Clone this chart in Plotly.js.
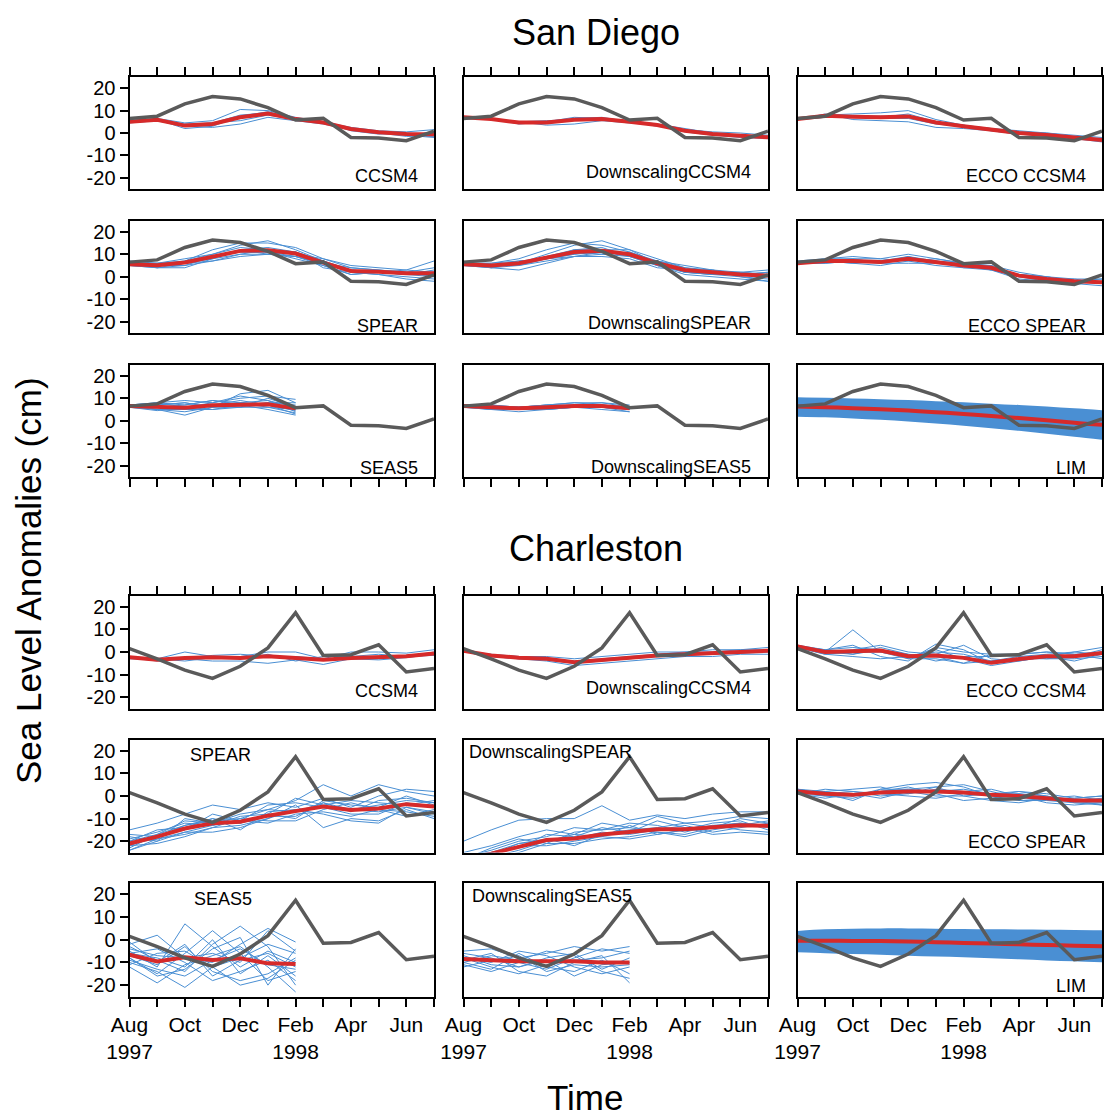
<!DOCTYPE html>
<html><head><meta charset="utf-8">
<script src="https://cdn.plot.ly/plotly-3.0.1.min.js"></script>
<style>body{margin:0;background:#fff}#chart{width:1104px;height:1120px}</style>
</head><body><div id="chart"></div>
<script>
// ---------- DATA ----------
const monthIdx = [0,1,2,3,4,5,6,7,8,9,10,11];
const monthTickText = ["Aug<br>1997","","Oct","","Dec","","Feb<br>1998","","Apr","","Jun",""];
const yTickVals = [20,10,0,-10,-20];
const yTickText = ["20","10","0","-10","-20"];

const obsSanDiego = [6.5, 7.5, 13, 16.3, 15.2, 11.3, 5.8, 6.6, -2, -2.2, -3.4, 0.8];
const obsCharleston = [1.5, -3, -8, -11.7, -6.3, 1.8, 17.4, -1.5, -1.2, 3.2, -8.8, -7.3];

// San Diego
const sdCCSM4Mean = [5, 5.9, 3.3, 4, 7, 8.7, 6.2, 4.7, 1.8, 0.3, -0.4, -0.6];
const sdCCSM4Members = [
  [5.5, 6.5, 4.5, 5.5, 10.5, 10, 7, 5, 2.5, 1, 0.5, 1.5],
  [5, 6, 2, 3, 7.5, 9.5, 6.5, 4.5, 2, 0.5, -0.5, 0],
  [4.5, 5.5, 3, 2.5, 4, 7, 5.5, 4, 1.5, 0, -1.5, -1.5],
  [5, 6, 4, 4.5, 8, 9, 6, 5, 1, -0.5, 0, -1],
  [5, 5.5, 3, 4.5, 5.5, 8, 6, 5, 2, 0.5, -1, -2]];
const sdDsCCSM4Mean = [7, 6.2, 4.7, 4.7, 5.9, 6.2, 5, 3.6, 1, -0.4, -1.2, -1.9];
const sdDsCCSM4Members = [
  [7, 6.5, 4, 5, 7, 6.5, 5, 3, 1.5, 0.5, 0, -1],
  [7, 6, 5, 5.5, 6, 6, 5.5, 4, 2, 0, -1, -2.5],
  [7, 6, 5, 3.5, 4, 5.5, 4.5, 3.5, 0.5, -1, -2, -2.5],
  [7, 6, 4.5, 4.5, 6.5, 7, 5, 3.5, 1, -0.5, -1.5, -1.5]];
const sdEcCCSM4Mean = [6.2, 7.7, 7.3, 7, 7.4, 4.7, 3, 1.3, 0, -0.9, -1.9, -3.1];
const sdEcCCSM4Members = [
  [6, 8, 8.5, 9, 10, 6, 3.5, 2, 0.5, 0, -1, -2],
  [6, 8.5, 6, 5.5, 5, 2.5, 2, 1, -0.5, -1.5, -2.5, -4],
  [6.5, 7.5, 7.5, 7, 8.5, 5, 3, 1.5, 0, -1, -2, -3.5],
  [6, 7, 7, 6.5, 6.5, 4, 3, 2, 1, 0, -1.5, -2.5],
  [6, 8, 7.5, 7.5, 7, 5, 3.5, 1, -0.5, -1, -2, -3]];
const sdSPEARMean = [5.6, 5.1, 6.3, 8.8, 11.5, 11.8, 10.3, 6.3, 2.6, 2.2, 1.5, 1.5];
const sdSPEARMembers = [
  [6, 4, 4, 8, 12, 13, 11, 7, 3, 2, 1, 3],
  [5, 5, 7, 12, 15, 15, 13, 8, 4, 3, 2, 4],
  [6, 6, 8, 10, 14, 16, 12, 7, 2, 1, 0, -1],
  [5, 4, 5, 7, 9, 10, 9, 5, 1, 2, 3, 7],
  [7, 6, 6, 9, 11, 11, 9, 6, 4, 3, 2, 0],
  [5, 5, 6, 8, 10, 10, 11, 4, 2, 1, -1, -2],
  [6, 6, 7, 10, 13, 12, 10, 8, 5, 4, 3, 2],
  [5, 5, 5, 9, 11, 11, 8, 5, 1, 2, 1, 1],
  [6, 5, 6, 7, 10, 12, 11, 7, 3, 2, 2, 2],
  [5, 4, 6, 9, 12, 10, 9, 6, 3, 2, 1, 0]];
const sdDsSPEARMean = [5.5, 5, 6, 8.5, 11, 11.5, 10, 6, 3, 2, 1, 0.5];
const sdDsSPEARMembers = [
  [6, 5, 6, 10, 14, 16, 12, 8, 4, 2, 1, 0],
  [5, 4, 3, 6, 9, 10, 9, 5, 2, 1, 0, -2],
  [6, 6, 8, 12, 15, 14, 11, 7, 3, 3, 2, 3],
  [5, 5, 7, 8, 10, 12, 12, 6, 2, 1, 1, 2],
  [6, 5, 5, 7, 9, 9, 8, 4, 3, 2, 2, 1],
  [5, 4, 6, 9, 12, 13, 9, 7, 5, 3, 0, -1],
  [6, 6, 7, 8, 10, 11, 10, 5, 1, 0, -1, -2],
  [5, 5, 6, 9, 11, 10, 11, 6, 2, 2, 2, 1],
  [6, 4, 5, 8, 12, 12, 10, 7, 4, 3, 1, 2],
  [5, 5, 6, 8, 9, 11, 9, 5, 2, 1, 1, 0]];
const sdEcSPEARMean = [6, 7, 7, 6.5, 8, 6.5, 5, 4, 0.5, -1, -2, -2.5];
const sdEcSPEARMembers = [
  [6, 8, 9, 8, 10, 8, 6, 4, 1, 0, -1, -1],
  [6, 7, 6, 5, 7, 5, 4, 3, 0, -2, -3, -4],
  [6, 6, 7, 7, 9, 7, 6, 5, 2, 0, -2, -3],
  [7, 8, 8, 6, 6, 6, 5, 3, -1, -2, -3, -2],
  [6, 7, 6, 7, 8, 7, 4, 4, 1, -1, -1, -3],
  [6, 6, 7, 6, 9, 6, 5, 5, 0, -1, -2, -1],
  [6, 7, 8, 8, 7, 8, 6, 3, 1, 0, -2, -3]];
const sdSEAS5Mean = [6.6, 6.3, 5.8, 6.9, 7.3, 7.3, 5.5];
const sdSEAS5Members = [
  [6, 8, 9, 8, 10, 11, 9.5],
  [7, 5, 2.5, 6, 12, 13.5, 8],
  [6, 5, 4, 6, 8, 9, 4],
  [7, 8, 7, 9, 7, 5, 2.5],
  [6, 6, 5, 7, 9, 7, 3],
  [6.5, 7, 8, 6, 6, 6, 5],
  [6, 4.5, 6, 8, 11, 9, 6],
  [7, 8, 6, 5, 6, 8, 7],
  [6, 6, 7, 9, 8, 6, 3.5],
  [6.5, 5, 5, 7, 6, 10, 6],
  [6, 7, 8, 6, 8, 7, 4.5],
  [7, 6, 5, 5, 7, 8, 8]];
const sdDsSEAS5Mean = [6.5, 6, 5.5, 6, 6.5, 6.5, 5.5];
const sdDsSEAS5Members = [
  [6.5, 6, 6, 7, 8, 8, 7],
  [6.5, 5, 5, 5, 6, 6, 4],
  [7, 7, 6, 7, 7, 7, 6],
  [6, 5, 4, 5, 6, 5, 4],
  [6.5, 6, 6, 6, 7, 8, 6],
  [7, 6, 5, 6, 6, 6, 5],
  [6.5, 7, 6, 7, 8, 7, 6],
  [6, 5, 5, 5, 6, 6, 5]];
const sdLIMMean  = [6.3, 6.0, 5.6, 5.1, 4.5, 3.8, 3.0, 2.1, 1.2, 0.2, -0.9, -1.8];
const sdLIMUpper = [10.4, 10.2, 9.9, 9.6, 9.2, 8.7, 8.2, 7.6, 7.0, 6.3, 5.5, 4.7];
const sdLIMLower = [1.8, 1.5, 1.0, 0.4, -0.3, -1.2, -2.2, -3.3, -4.5, -5.8, -7.1, -8.4];

// Charleston
const chCCSM4Mean = [-2.3, -3.4, -2.6, -2.3, -2.6, -1.9, -2.6, -3.4, -2.6, -2.2, -1.9, -0.7];
const chCCSM4Members = [
  [-2.5, -3, 0, -2, -2, 0, 0, -3, 0, 0, -0.5, 1],
  [-3, -3.5, -3, -4, -4, -5, -3.5, -5.5, -3, -3.5, -2.5, -1],
  [-2, -3.5, -3, -2, -3, -1, -4, -2, -2, -1, -2, 0],
  [-2.5, -4, -2.5, -1.5, -1, -2, -3, -3, -3, -3, -2, -1.5],
  [-2, -3, -4, -2.5, -2.5, -2, -2, -3, -3, -2.5, -1.5, -0.5]];
const chDsCCSM4Mean = [0.5, -1.5, -2.5, -3, -4.5, -3.5, -2.5, -1.5, -1, -0.5, 0, 0.5];
const chDsCCSM4Members = [
  [0.5, -1, -2, -2, -3, -2, -1, 0, 0, 1, 1, 2],
  [0.5, -2, -3, -4, -6, -5, -4, -3, -2, -2, -1, -1],
  [0.5, -1.5, -2, -3, -4, -3, -2, -1, 0, 0, 1, 1],
  [0.5, -2, -3, -3.5, -5, -4, -3, -2, -1.5, -1, -0.5, 0]];
const chEcCCSM4Mean = [2.5, 0, 0.3, 0.7, -1.9, -1.5, -2.6, -4.8, -3.1, -1.9, -1.9, -0.4];
const chEcCCSM4Members = [
  [3, 0, 9.8, 0, -3, 2, 0, -1, -1, 0, -1, 0],
  [2, 1, 3, -2, -4, 3.5, 1, -5, -3, -2, -2, 0],
  [3, 0, -1, 2, -1, -2, -5, -1, -2, -3, -3, -2],
  [2, -1, -2, -3, -2, 1, -3, -6, -4, -2, 0, 2],
  [1.5, 0, 1, 3, 0, -1, 3, -3, -4, -2, -4, -1],
  [2.5, 1, 2, 1, -1, -4, -2, -2, -1, 0, -1, -3],
  [2, -1, 0, 0, -2, 0, -1, -4, -3, -3, -2, 1],
  [3, 1, -1, 1, -3, -3, -5, -4, -2, -1, 0, -1]];
const chSPEARMean = [-21, -18, -14.4, -12.1, -11.4, -8.7, -6.7, -4.7, -6.2, -5.5, -3.6, -4.7];
const chSPEARMembers = [
  [-15, -12, -8, -4, -6, -3, -5, -1, -5, 0, 3, 2],
  [-18, -20, -10, -12, -8, -6, -2, 5, 0, 5, 2, 0],
  [-22, -18, -15, -8, -11, -4, -3, -5, -8, -8, -3, -5],
  [-24, -20, -16, -16, -14, -10, -4, -14, -10, -11, -6, -10],
  [-20, -17, -11, -12, -12, -9, -9, -3, -7, -2, -1, -3],
  [-21, -19, -17, -14, -10, -11, -11, -6, -3, -6, -9, -6],
  [-23, -17, -13, -10, -15, -7, -6, -8, -11, -12, -5, -8],
  [-19, -16, -12, -13, -9, -8, -10, -2, -4, -5, 0, -4],
  [-22, -21, -18, -14, -13, -10, -6, -5, -6, -7, -5, -7],
  [-20, -15, -14, -10, -12, -8, -1, -4, -2, -3, -4, -2],
  [-24, -19, -16, -13, -11, -12, -8, -7, -9, -6, -7, -9],
  [-17, -18, -13, -11, -10, -6, -7, -3, -6, -4, -2, -3]];
const chDsSPEARMean = [-28, -25.5, -22.5, -19.5, -18.8, -17, -15.9, -14.7, -14.7, -14, -12.9, -13.2];
const chDsSPEARMembers = [
  [-20, -15, -10.7, -10, -10, -4.3, -10.7, -8.4, -10, -8, -7, -7],
  [-25, -22, -18, -15, -17, -12, -14, -9, -12, -11, -9, -10],
  [-27, -24, -20, -18, -14, -15, -12, -13, -16, -13, -12, -14],
  [-30, -27, -24, -20, -19, -16, -17, -15, -13, -16, -14, -12],
  [-28, -26, -22, -22, -20, -18, -13, -17, -15, -12, -11, -15],
  [-29, -28, -25, -21, -21, -19, -18, -16, -18, -15, -13, -11],
  [-26, -25, -23, -17, -18, -14, -16, -11, -14, -17, -16, -17],
  [-30, -26, -21, -19, -22, -17, -15, -14, -12, -14, -10, -12],
  [-27, -25, -21, -20, -17, -18, -19, -17, -15, -13, -15, -16],
  [-28, -23, -19, -21, -16, -15, -14, -16, -17, -14, -12, -13]];
const chEcSPEARMean = [2, 1, 0.5, 1.5, 2, 2, 1.5, 0.5, 0, -1, -2, -2];
const chEcSPEARMembers = [
  [3, 1, -2, 3, 5, 6, 4, 0, 2, 1, -1, 0],
  [1, 3, 2, 0, 1, 4, 5, 2, -1, -2, -3, -4],
  [2, 0, -1, 2, 4, 1, -2, -1, 1, 0, -2, -1],
  [3, 2, 3, 4, 1, 3, 2, 3, 0, -3, -4, -3],
  [1, -1, 1, -1, 2, 0, 0, -2, -3, -1, 0, -2],
  [2, 2, 0, 3, 3, 2, 3, 1, 2, 0, -3, -3],
  [3, 1, 2, 1, 0, -1, 1, 0, -2, -2, -1, 0],
  [1, 0, 0, 2, 3, 4, 0, 1, 1, -1, -2, -4]];
const chSEAS5Mean = [-6.6, -9.6, -7.7, -8.9, -8.2, -10.4, -10.7];
const chSEAS5Members = [
  [-2, 2, -8, -10, -2, 5, -1],
  [-5, -12, 7, -3, -12, -5, -10],
  [-8, -15, -6, 4, -6, -18, -14],
  [-3, -9, -14, -2, 6, -3, -20],
  [-10, -14, -21, -12, -8, -2, -6],
  [-6, -4, -10, -18, -14, -9, -18],
  [-12, -19, -11, -7, -3, -12, -23],
  [-7, -11, -3, -14, -18, -15, -8],
  [-4, -7, -8, -6, -10, 4, -5],
  [-9, -13, -16, -9, -4, -11, -13],
  [-6, -8, -12, 0, -15, -7, -16],
  [-11, -6, -5, -12, -20, -17, -9],
  [-1, -10, -2, -16, -9, -6, -12],
  [-8, -16, -13, -4, 1, -20, -4]];
const chDsSEAS5Mean = [-8.5, -9, -9.5, -9.5, -9.5, -10, -10];
const chDsSEAS5Members = [
  [-5, -4, -8, -6, -3, -5, -3],
  [-10, -13, -6, -12, -14, -9, -15],
  [-7, -11, -12, -8, -6, -13, -8],
  [-9, -6, -14, -16, -10, -7, -19],
  [-8, -10, -5, -7, -12, -15, -12],
  [-11, -14, -10, -13, -8, -4, -6],
  [-6, -8, -12, -9, -16, -11, -10],
  [-10, -7, -9, -5, -7, -14, -17],
  [-8, -12, -15, -11, -9, -8, -5],
  [-12, -9, -7, -14, -11, -12, -11]];
const chLIMMean  = [-0.4, -0.4, -0.5, -0.6, -0.8, -1.1, -1.4, -1.7, -2.0, -2.3, -2.6, -2.9];
const chLIMUpper = [3.9, 4.6, 4.9, 5, 5, 4.9, 4.7, 4.6, 4.5, 4.4, 4.3, 4.2];
const chLIMLower = [-5.5, -5.9, -6.3, -6.6, -7, -7.4, -7.7, -8.1, -8.6, -9.1, -9.5, -9.9];

const panelNames = ["CCSM4","DownscalingCCSM4","ECCO CCSM4","SPEAR","DownscalingSPEAR","ECCO SPEAR","SEAS5","DownscalingSEAS5","LIM"];

// ---------- BUILD ----------
const panels = [
  {obs: obsSanDiego, mean: sdCCSM4Mean, members: sdCCSM4Members},
  {obs: obsSanDiego, mean: sdDsCCSM4Mean, members: sdDsCCSM4Members},
  {obs: obsSanDiego, mean: sdEcCCSM4Mean, members: sdEcCCSM4Members},
  {obs: obsSanDiego, mean: sdSPEARMean, members: sdSPEARMembers},
  {obs: obsSanDiego, mean: sdDsSPEARMean, members: sdDsSPEARMembers},
  {obs: obsSanDiego, mean: sdEcSPEARMean, members: sdEcSPEARMembers},
  {obs: obsSanDiego, mean: sdSEAS5Mean, members: sdSEAS5Members},
  {obs: obsSanDiego, mean: sdDsSEAS5Mean, members: sdDsSEAS5Members},
  {obs: obsSanDiego, mean: sdLIMMean, upper: sdLIMUpper, lower: sdLIMLower},
  {obs: obsCharleston, mean: chCCSM4Mean, members: chCCSM4Members},
  {obs: obsCharleston, mean: chDsCCSM4Mean, members: chDsCCSM4Members},
  {obs: obsCharleston, mean: chEcCCSM4Mean, members: chEcCCSM4Members},
  {obs: obsCharleston, mean: chSPEARMean, members: chSPEARMembers},
  {obs: obsCharleston, mean: chDsSPEARMean, members: chDsSPEARMembers},
  {obs: obsCharleston, mean: chEcSPEARMean, members: chEcSPEARMembers},
  {obs: obsCharleston, mean: chSEAS5Mean, members: chSEAS5Members},
  {obs: obsCharleston, mean: chDsSEAS5Mean, members: chDsSEAS5Members},
  {obs: obsCharleston, mean: chLIMMean, upper: chLIMUpper, lower: chLIMLower}
];

// layout geometry (pixels)
const W = 1104, H = 1120;
const colX = [[129.5, 434], [463.5, 768], [797.5, 1102]];
const rowY = [[77, 189], [220.5, 333], [364.5, 477], [595.5, 708.5], [739.5, 852.5], [883, 996.5]];
// label placement per panel: [xfrac, yfrac, xanchor]
const labelPos = [
  [0.954, 0.116, 'right'], [0.951, 0.152, 'right'], [0.954, 0.116, 'right'],
  [0.954, 0.062, 'right'], [0.951, 0.089, 'right'], [0.954, 0.062, 'right'],
  [0.954, 0.080, 'right'], [0.951, 0.089, 'right'], [0.954, 0.080, 'right'],
  [0.954, 0.154, 'right'], [0.951, 0.180, 'right'], [0.954, 0.154, 'right'],
  [0.300, 0.863, 'center'], [0.011, 0.889, 'left'], [0.954, 0.093, 'right'],
  [0.307, 0.859, 'center'], [0.021, 0.885, 'left'], [0.954, 0.093, 'right']
];

const BLUE = '#4a8fd3', RED = '#d62a2a', GRAY = '#5a5a5a';
const FONT = 'Liberation Sans, Arial, Helvetica, sans-serif';
const traces = [];
const layout = {
  width: W, height: H, margin: {l: 0, r: 0, t: 0, b: 0},
  paper_bgcolor: '#fff', plot_bgcolor: '#fff', showlegend: false,
  font: {family: FONT, color: '#000'}, annotations: []
};

panels.forEach((p, i) => {
  const n = i + 1;
  const xa = 'x' + (n === 1 ? '' : n), ya = 'y' + (n === 1 ? '' : n);
  const row = Math.floor(i / 3), col = i % 3;
  if (p.upper) {
    traces.push({x: monthIdx, y: p.lower, xaxis: xa, yaxis: ya, type: 'scatter', mode: 'lines',
      line: {width: 0, color: BLUE, shape: 'spline'}, hoverinfo: 'skip'});
    traces.push({x: monthIdx, y: p.upper, xaxis: xa, yaxis: ya, type: 'scatter', mode: 'lines',
      line: {width: 0, color: BLUE, shape: 'spline'}, fill: 'tonexty', fillcolor: BLUE, hoverinfo: 'skip'});
  } else {
    p.members.forEach(m => traces.push({x: monthIdx.slice(0, m.length), y: m, xaxis: xa, yaxis: ya,
      type: 'scatter', mode: 'lines', line: {width: 1, color: BLUE}}));
  }
  traces.push({x: monthIdx.slice(0, p.mean.length), y: p.mean, xaxis: xa, yaxis: ya, type: 'scatter',
    mode: 'lines', line: {width: 4, color: RED, shape: p.upper ? 'spline' : 'linear'}});
  traces.push({x: monthIdx, y: p.obs, xaxis: xa, yaxis: ya, type: 'scatter', mode: 'lines',
    line: {width: 3.5, color: GRAY}});

  const xKey = 'xaxis' + (n === 1 ? '' : n), yKey = 'yaxis' + (n === 1 ? '' : n);
  const topTicks = (row === 0 || row === 3), botTicks = (row === 2 || row === 5);
  layout[xKey] = {
    domain: [colX[col][0] / W, colX[col][1] / W], anchor: ya, range: [0, 11],
    showgrid: false, zeroline: false, showline: true, mirror: true, linecolor: '#000', linewidth: 2,
    side: topTicks ? 'top' : 'bottom', ticks: (topTicks || botTicks) ? 'outside' : '',
    ticklen: 8, tickwidth: 2, tickcolor: '#000',
    tickmode: 'array', tickvals: monthIdx, ticktext: monthTickText,
    showticklabels: row === 5, tickfont: {size: 21, family: FONT, color: '#000'}, tickangle: 0
  };
  layout[yKey] = {
    domain: [1 - rowY[row][1] / H, 1 - rowY[row][0] / H], anchor: xa, range: [-25, 25],
    showgrid: false, zeroline: false, showline: true, mirror: true, linecolor: '#000', linewidth: 2,
    side: col === 2 ? 'right' : 'left', ticks: col === 1 ? '' : 'outside',
    ticklen: 8, tickwidth: 2, tickcolor: '#000',
    tickmode: 'array', tickvals: yTickVals, ticktext: yTickText,
    showticklabels: col === 0, tickfont: {size: 20, family: FONT, color: '#000'}
  };
  const lp = labelPos[i];
  layout.annotations.push({text: panelNames[i % 9], xref: xa + ' domain', yref: ya + ' domain',
    x: lp[0], y: lp[1], xanchor: lp[2], yanchor: 'middle', showarrow: false,
    font: {size: 18, family: FONT, color: '#000'}});
});

layout.annotations.push(
  {text: 'San Diego', xref: 'paper', yref: 'paper', x: 596 / W, y: 1 - 32 / H, xanchor: 'center', yanchor: 'middle',
   showarrow: false, font: {size: 36, family: FONT, color: '#000'}},
  {text: 'Charleston', xref: 'paper', yref: 'paper', x: 596 / W, y: 1 - 548 / H, xanchor: 'center', yanchor: 'middle',
   showarrow: false, font: {size: 36, family: FONT, color: '#000'}},
  {text: 'Sea Level Anomalies (cm)', xref: 'paper', yref: 'paper', x: 28 / W, y: 1 - 581 / H, xanchor: 'center', yanchor: 'middle',
   textangle: -90, showarrow: false, font: {size: 35, family: FONT, color: '#000'}},
  {text: 'Time', xref: 'paper', yref: 'paper', x: 585 / W, y: 1 - 1097 / H, xanchor: 'center', yanchor: 'middle',
   showarrow: false, font: {size: 35, family: FONT, color: '#000'}}
);

Plotly.newPlot('chart', traces, layout, {staticPlot: true, displayModeBar: false});
</script>
</body></html>
